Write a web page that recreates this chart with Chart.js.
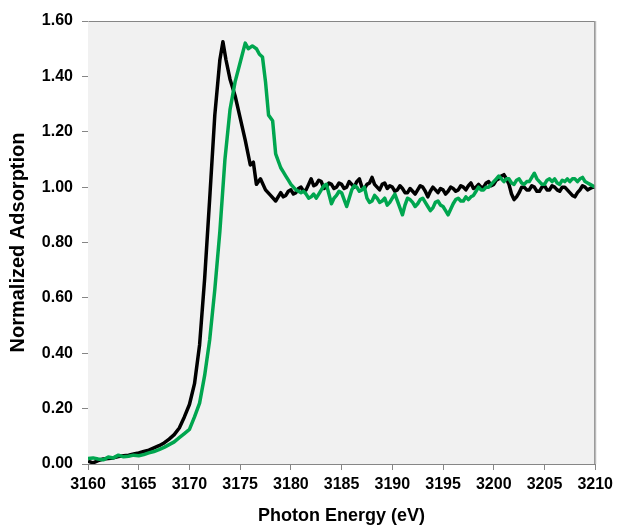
<!DOCTYPE html>
<html>
<head>
<meta charset="utf-8">
<script src="https://cdn.jsdelivr.net/npm/chart.js@4/dist/chart.umd.min.js"></script>
<style>
  html, body { margin: 0; padding: 0; background: #fff; }
  #wrap { width: 618px; height: 527px; }
</style>
</head>
<body>
<div id="wrap"><canvas id="xasChart" width="618" height="527"></canvas></div>
<script>
// black spectrum: edge region, then the post-edge tail sampled every 0.25 eV
const energyBlack = [
  3160, 3160.5, 3161, 3161.5, 3162, 3162.5, 3163, 3163.5, 3164, 3164.5,
  3165, 3165.5, 3166, 3166.5, 3167, 3167.5, 3168, 3168.5, 3169, 3169.5,
  3170, 3170.5, 3171, 3171.5, 3172, 3172.5, 3173, 3173.3, 3173.6, 3174,
  3174.5, 3175, 3175.5, 3176, 3176.3, 3176.6, 3177, 3177.5, 3178, 3178.5,
  3179, 3179.25, 3179.5, 3179.75, 3180, 3180.25, 3180.5, 3180.75,
  3181, 3181.25, 3181.5, 3181.75, 3182, 3182.25, 3182.5, 3182.75,
  3183, 3183.25, 3183.5, 3183.75, 3184, 3184.25, 3184.5, 3184.75,
  3185, 3185.25, 3185.5, 3185.75, 3186, 3186.25, 3186.5, 3186.75,
  3187, 3187.25, 3187.5, 3187.75, 3188, 3188.25, 3188.5, 3188.75,
  3189, 3189.25, 3189.5, 3189.75, 3190, 3190.25, 3190.5, 3190.75,
  3191, 3191.25, 3191.5, 3191.75, 3192, 3192.25, 3192.5, 3192.75,
  3193, 3193.25, 3193.5, 3193.75, 3194, 3194.25, 3194.5, 3194.75,
  3195, 3195.25, 3195.5, 3195.75, 3196, 3196.25, 3196.5, 3196.75,
  3197, 3197.25, 3197.5, 3197.75, 3198, 3198.25, 3198.5, 3198.75,
  3199, 3199.25, 3199.5, 3199.75, 3200, 3200.25, 3200.5, 3200.75,
  3201, 3201.25, 3201.5, 3201.75, 3202, 3202.25, 3202.5, 3202.75,
  3203, 3203.25, 3203.5, 3203.75, 3204, 3204.25, 3204.5, 3204.75,
  3205, 3205.25, 3205.5, 3205.75, 3206, 3206.25, 3206.5, 3206.75,
  3207, 3207.25, 3207.5, 3207.75, 3208, 3208.25, 3208.5, 3208.75,
  3209, 3209.25, 3209.5, 3209.75, 3210
];
const absBlack = [
  0.010, 0.004, 0.012, 0.018, 0.020, 0.022, 0.027, 0.030, 0.032, 0.036,
  0.040, 0.045, 0.050, 0.058, 0.066, 0.076, 0.090, 0.106, 0.130, 0.170,
  0.215, 0.290, 0.430, 0.670, 0.960, 1.260, 1.460, 1.525, 1.460, 1.390,
  1.330, 1.250, 1.170, 1.080, 1.090, 1.010, 1.030, 0.990, 0.970, 0.950,
  0.980, 0.965, 0.970, 0.985, 0.990, 0.975, 0.980, 0.995,
  1.000, 0.985, 0.990, 1.010, 1.030, 1.005, 1.010, 1.025,
  1.020, 0.995, 1.000, 1.015, 1.010, 0.995, 1.000, 1.015,
  1.010, 0.995, 1.000, 1.020, 1.010, 1.000, 1.020, 1.030,
  1.000, 0.995, 1.010, 1.015, 1.035, 1.010, 1.000, 0.990,
  1.010, 1.015, 0.995, 1.005, 1.000, 0.985, 0.990, 1.005,
  0.995, 0.980, 0.980, 0.995, 0.985, 0.975, 0.990, 1.005,
  1.000, 0.985, 0.965, 0.985, 1.000, 0.990, 0.980, 0.995,
  0.990, 0.975, 0.985, 1.000, 0.995, 0.985, 0.990, 1.005,
  1.000, 0.990, 1.005, 1.015, 0.995, 1.000, 1.010, 1.000,
  1.000, 1.015, 1.020, 1.005, 1.010, 1.025, 1.030, 1.040,
  1.045, 1.030, 1.010, 0.975, 0.955, 0.965, 0.980, 1.000,
  1.000, 0.990, 0.990, 1.005, 1.000, 0.985, 0.985, 1.000,
  1.005, 0.990, 0.990, 1.005, 1.000, 0.990, 0.985, 1.000,
  1.000, 0.990, 0.980, 0.970, 0.965, 0.980, 0.990, 1.005,
  1.000, 0.990, 0.995, 1.000, 1.000
];

// green spectrum
const energyGreen = [
  3160, 3160.5, 3161, 3161.5, 3162, 3162.5, 3163, 3163.5, 3164, 3164.5,
  3165, 3165.5, 3166, 3166.5, 3167, 3167.5, 3168, 3168.5, 3169, 3169.5,
  3170, 3170.5, 3171, 3171.5, 3172, 3172.5, 3173, 3173.5, 3174, 3174.5,
  3175, 3175.5, 3175.8, 3176.2, 3176.6, 3176.9, 3177.2, 3177.5, 3177.8, 3178.2,
  3178.5,
  3179, 3179.25, 3179.5, 3179.75, 3180, 3180.25, 3180.5, 3180.75,
  3181, 3181.25, 3181.5, 3181.75, 3182, 3182.25, 3182.5, 3182.75,
  3183, 3183.25, 3183.5, 3183.75, 3184, 3184.25, 3184.5, 3184.75,
  3185, 3185.25, 3185.5, 3185.75, 3186, 3186.25, 3186.5, 3186.75,
  3187, 3187.25, 3187.5, 3187.75, 3188, 3188.25, 3188.5, 3188.75,
  3189, 3189.25, 3189.5, 3189.75, 3190, 3190.25, 3190.5, 3190.75,
  3191, 3191.25, 3191.5, 3191.75, 3192, 3192.25, 3192.5, 3192.75,
  3193, 3193.25, 3193.5, 3193.75, 3194, 3194.25, 3194.5, 3194.75,
  3195, 3195.25, 3195.5, 3195.75, 3196, 3196.25, 3196.5, 3196.75,
  3197, 3197.25, 3197.5, 3197.75, 3198, 3198.25, 3198.5, 3198.75,
  3199, 3199.25, 3199.5, 3199.75, 3200, 3200.25, 3200.5, 3200.75,
  3201, 3201.25, 3201.5, 3201.75, 3202, 3202.25, 3202.5, 3202.75,
  3203, 3203.25, 3203.5, 3203.75, 3204, 3204.25, 3204.5, 3204.75,
  3205, 3205.25, 3205.5, 3205.75, 3206, 3206.25, 3206.5, 3206.75,
  3207, 3207.25, 3207.5, 3207.75, 3208, 3208.25, 3208.5, 3208.75,
  3209, 3209.25, 3209.5, 3209.75, 3210
];
const absGreen = [
  0.020, 0.022, 0.018, 0.015, 0.025, 0.022, 0.032, 0.026, 0.028, 0.032,
  0.030, 0.034, 0.040, 0.045, 0.052, 0.060, 0.070, 0.080, 0.095, 0.110,
  0.125, 0.170, 0.220, 0.320, 0.450, 0.630, 0.840, 1.100, 1.280, 1.380,
  1.450, 1.520, 1.500, 1.510, 1.500, 1.480, 1.470, 1.380, 1.260, 1.240,
  1.120,
  1.070, 1.055, 1.040, 1.025, 1.010, 1.000, 0.990, 0.985,
  0.980, 0.985, 0.975, 0.960, 0.965, 0.975, 0.960, 0.975,
  0.990, 1.005, 1.010, 0.975, 0.940, 0.960, 0.970, 0.985,
  0.980, 0.955, 0.930, 0.960, 0.990, 1.005, 1.000, 0.985,
  0.990, 1.000, 0.960, 0.945, 0.950, 0.970, 0.960, 0.945,
  0.950, 0.960, 0.935, 0.945, 0.960, 0.975, 0.950, 0.925,
  0.900, 0.935, 0.960, 0.955, 0.945, 0.930, 0.940, 0.955,
  0.960, 0.945, 0.930, 0.915, 0.925, 0.945, 0.950, 0.935,
  0.930, 0.915, 0.900, 0.920, 0.940, 0.955, 0.960, 0.950,
  0.950, 0.965, 0.955, 0.965, 0.970, 0.985, 1.000, 0.990,
  0.990, 1.000, 1.000, 1.010, 1.020, 1.030, 1.040, 1.030,
  1.020, 1.030, 1.030, 1.015, 1.010, 1.025, 1.030, 1.015,
  1.010, 1.020, 1.020, 1.035, 1.050, 1.030, 1.020, 1.010,
  1.010, 1.025, 1.030, 1.020, 1.030, 1.015, 1.010, 1.025,
  1.020, 1.030, 1.020, 1.030, 1.030, 1.020, 1.030, 1.035,
  1.020, 1.015, 1.010, 1.005, 1.000
];

// axis ticks
const energyTicks = [3160, 3165, 3170, 3175, 3180, 3185, 3190, 3195, 3200, 3205, 3210];
const absTicks = [0, 0.2, 0.4, 0.6, 0.8, 1.0, 1.2, 1.4, 1.6];

const pts = (xs, ys) => xs.map((x, i) => ({ x: x, y: ys[i] }));

const FONT = "'Liberation Sans', Arial, sans-serif";
const AXIS_GRAY = '#868686';

// grey plot background and box frame
const plotFrame = {
  id: 'plotFrame',
  beforeDatasetsDraw(chart) {
    const { ctx, chartArea: a } = chart;
    ctx.save();
    ctx.fillStyle = '#f1f1f1';
    ctx.fillRect(a.left, a.top, a.right - a.left, a.bottom - a.top);
    ctx.restore();
  },
  afterDatasetsDraw(chart) {
    const { ctx, chartArea: a } = chart;
    ctx.save();
    ctx.strokeStyle = AXIS_GRAY;
    ctx.lineWidth = 1;
    ctx.beginPath();
    ctx.moveTo(a.left + 0.5, a.top + 0.5);
    ctx.lineTo(a.right - 0.5, a.top + 0.5);
    ctx.lineTo(a.right - 0.5, a.bottom);
    ctx.stroke();
    ctx.strokeStyle = '#b0b0b0';
    ctx.beginPath();
    ctx.moveTo(a.right + 0.5, a.top);
    ctx.lineTo(a.right + 0.5, a.bottom);
    ctx.stroke();
    ctx.restore();
  }
};

new Chart(document.getElementById('xasChart').getContext('2d'), {
  type: 'line',
  data: {
    datasets: [{
      label: 'green',
      data: pts(energyGreen, absGreen),
      borderColor: '#00a64f',
      borderWidth: 3.5,
      pointRadius: 0,
      tension: 0,
      borderJoinStyle: 'round'
    }, {
      label: 'black',
      data: pts(energyBlack, absBlack),
      borderColor: '#000000',
      borderWidth: 3.5,
      pointRadius: 0,
      tension: 0,
      borderJoinStyle: 'round'
    }]
  },
  options: {
    responsive: false,
    animation: false,
    layout: { padding: { top: 21, right: 21, left: 0, bottom: 0 } },
    plugins: {
      legend: { display: false },
      tooltip: { enabled: false }
    },
    scales: {
      x: {
        type: 'linear',
        min: 3160,
        max: 3210,
        afterBuildTicks: s => { s.ticks = energyTicks.map(v => ({ value: v })); },
        afterFit: s => { s.height = 63; },
        grid: { drawOnChartArea: false, color: AXIS_GRAY, tickLength: 6 },
        border: { color: AXIS_GRAY },
        ticks: {
          color: '#000',
          padding: 5,
          maxRotation: 0,
          callback: v => String(v),
          font: { family: FONT, size: 16, weight: 'bold' }
        },
        title: {
          display: true,
          text: 'Photon Energy (eV)',
          color: '#000',
          padding: { top: 0, bottom: 0 },
          font: { family: FONT, size: 18, weight: 'bold' }
        }
      },
      y: {
        min: 0,
        max: 1.6,
        afterBuildTicks: s => { s.ticks = absTicks.map(v => ({ value: v })); },
        afterFit: s => { s.width = 88; },
        grid: { drawOnChartArea: false, color: AXIS_GRAY, tickLength: 6 },
        border: { color: AXIS_GRAY },
        ticks: {
          color: '#000',
          padding: 9,
          callback: v => v.toFixed(2),
          font: { family: FONT, size: 16, weight: 'bold' }
        },
        title: {
          display: true,
          text: 'Normalized Adsorption',
          color: '#000',
          padding: { top: 6, bottom: 0 },
          font: { family: FONT, size: 20, weight: 'bold' }
        }
      }
    }
  },
  plugins: [plotFrame]
});
</script>
</body>
</html>
